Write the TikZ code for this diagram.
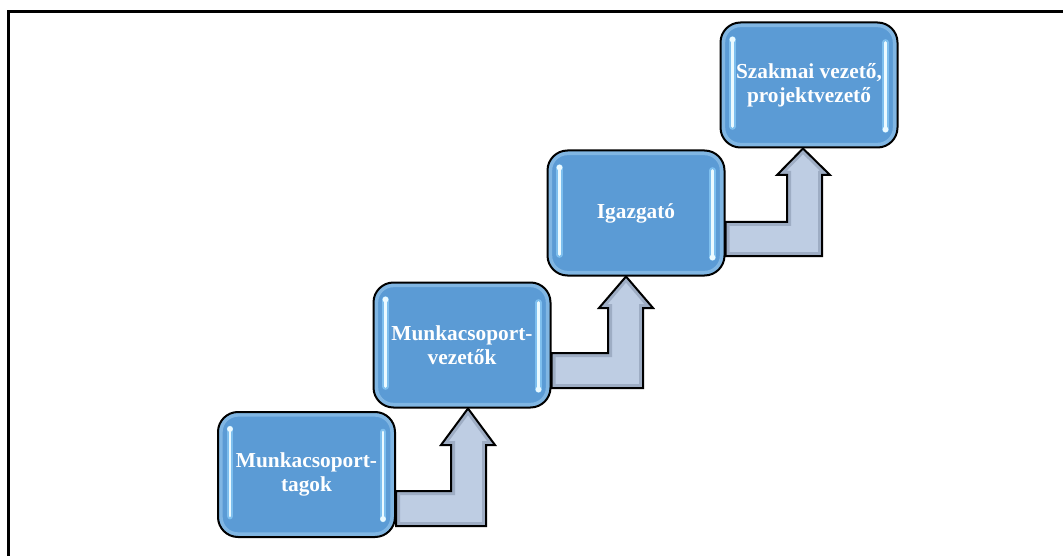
\documentclass[tikz,border=0pt]{standalone}
\usepackage{fontspec}
\setmainfont{Liberation Serif}
\usetikzlibrary{calc}
\definecolor{boxblue}{RGB}{91,155,213}
\definecolor{boxrim}{RGB}{160,205,240}
\definecolor{glow}{RGB}{150,215,255}
\definecolor{glowcore}{RGB}{235,250,255}
\definecolor{arrowblue}{RGB}{190,205,227}
\definecolor{arrowdark}{RGB}{110,125,150}
\tikzset{
  stepbox/.style={draw=black, line width=1.5pt, fill=boxblue, rounded corners=15pt,
    minimum width=132.75pt, minimum height=93.75pt, inner sep=0pt,
    text=white, align=center, font=\bfseries\fontsize{16}{18}\selectfont,
    path picture={\draw[boxrim, opacity=0.55, line width=7pt, rounded corners=15pt]
      (path picture bounding box.south west) rectangle (path picture bounding box.north east);}},
  hlglow/.style={glow, line width=5pt, opacity=0.6, line cap=round},
  hlcore/.style={glowcore, line width=2pt, line cap=round},
  arrowfill/.style={fill=arrowblue},
  arrowbevel/.style={draw=arrowdark, line width=6pt, opacity=0.4, line join=miter},
  arrowline/.style={draw=black, line width=1.5pt, line join=miter},
  frameline/.style={draw=black, line width=2.25pt}
}
\newcommand\stairarrow[1]{%
  \fill[arrowfill] #1;
  \begin{scope}\clip #1; \draw[arrowbevel] #1; \end{scope}
  \draw[arrowline] #1;}
\newcommand\gloss[1]{%
  \draw[hlglow] ($(#1.north west)+(13,18)$) -- ($(#1.south west)+(13,-22)$);
  \draw[hlglow] ($(#1.north east)+(-13,21)$) -- ($(#1.south east)+(-13,-19)$);
  \draw[hlcore] ($(#1.north west)+(13,18)$) -- ($(#1.south west)+(13,-22)$);
  \draw[hlcore] ($(#1.north east)+(-13,21)$) -- ($(#1.south east)+(-13,-19)$);
  \fill[glowcore] ($(#1.north west)+(13,18)$) circle (2.2pt);
  \fill[glowcore] ($(#1.south east)+(-13,-19)$) circle (2.2pt);}
\begin{document}
\begin{tikzpicture}[x=0.75pt,y=-0.75pt]
\useasboundingbox (0,0) rectangle (1064,556);
\draw[frameline] (8,557) -- (8,12) -- (1063,12);

\coordinate (c1) at (306.5,474.5);
\coordinate (c2) at (462,345);
\coordinate (c3) at (636,213);
\coordinate (c4) at (809,85);

\path (c1) node[stepbox, draw=none, fill=none, path picture={}] (g1) {};
\path (c2) node[stepbox, draw=none, fill=none, path picture={}] (g2) {};
\path (c3) node[stepbox, draw=none, fill=none, path picture={}] (g3) {};
\path (c4) node[stepbox, draw=none, fill=none, path picture={}] (g4) {};

\stairarrow{(g1.east |- 0,491) -- (451,491) -- (451,445) -- (441,445) -- (468,0 |- g2.south) -- (495,445) -- (486,445) -- (486,526) -- (g1.east |- 0,526) -- cycle}
\stairarrow{(g2.east |- 0,353) -- (608,353) -- (608,308) -- (599,308) -- (626,0 |- g3.south) -- (653,308) -- (643,308) -- (643,388) -- (g2.east |- 0,388) -- cycle}
\stairarrow{(g3.east |- 0,222) -- (787,222) -- (787,175) -- (777,175) -- (803,0 |- g4.south) -- (830,175) -- (822,175) -- (822,256) -- (g3.east |- 0,256) -- cycle}

\node[stepbox] (b1) at (c1) {Munkacsoport-\\tagok};
\node[stepbox] (b2) at (c2) {Munkacsoport-\\vezetők};
\node[stepbox] (b3) at (c3) {Igazgató};
\node[stepbox] (b4) at (c4) {Szakmai vezető,\\projektvezető};
\gloss{b1}
\gloss{b2}
\gloss{b3}
\gloss{b4}
\end{tikzpicture}
\end{document}
